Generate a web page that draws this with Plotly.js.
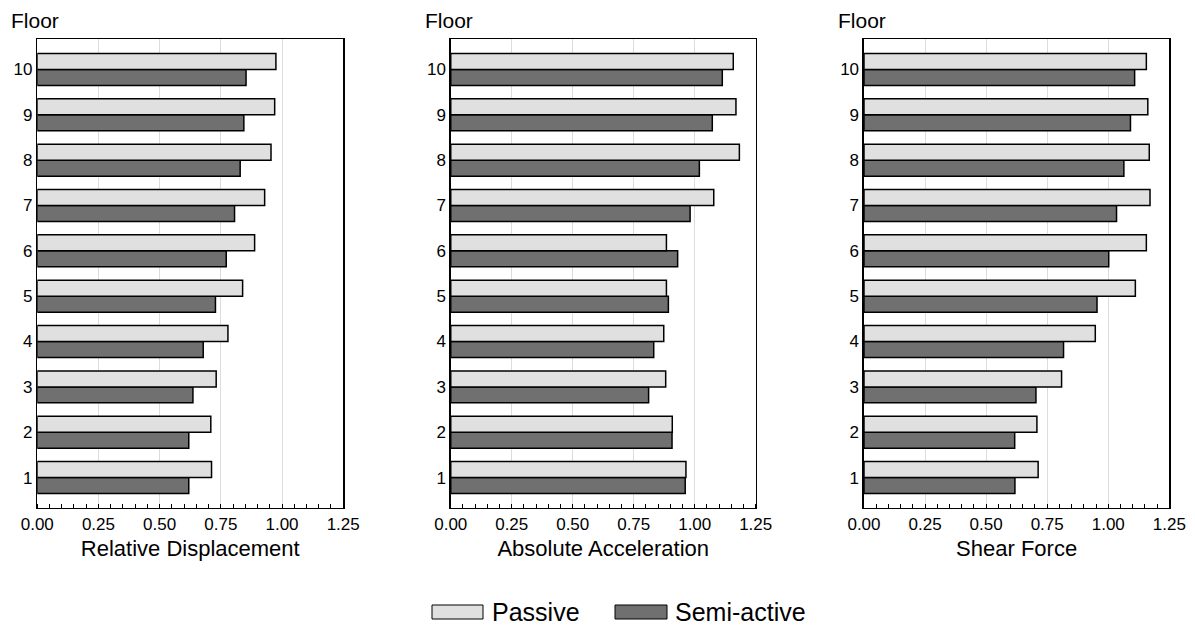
<!DOCTYPE html>
<html>
<head>
<meta charset="utf-8">
<script src="https://cdn.plot.ly/plotly-3.0.1.min.js"></script>
<style>html,body{margin:0;padding:0;background:#fff;}#chart{width:1195px;height:630px;}</style>
</head>
<body>
<div id="chart"></div>
<script>
const floors = [1, 2, 3, 4, 5, 6, 7, 8, 9, 10];
const panelTitles = ["Relative Displacement", "Absolute Acceleration", "Shear Force"];
const seriesNames = ["Passive", "Semi-active"];
const xTickVals = [0, 0.25, 0.5, 0.75, 1.0, 1.25];
const xTickText = ["0.00", "0.25", "0.50", "0.75", "1.00", "1.25"];

const dispPassive = [0.712, 0.709, 0.731, 0.779, 0.839, 0.888, 0.929, 0.955, 0.970, 0.975];
const dispSemi    = [0.619, 0.619, 0.636, 0.678, 0.728, 0.772, 0.806, 0.829, 0.844, 0.853];
const accPassive  = [0.964, 0.908, 0.881, 0.873, 0.884, 0.884, 1.078, 1.183, 1.169, 1.158];
const accSemi     = [0.961, 0.907, 0.811, 0.832, 0.892, 0.930, 0.981, 1.019, 1.072, 1.113];
const shearPassive= [0.713, 0.708, 0.809, 0.947, 1.111, 1.156, 1.171, 1.168, 1.162, 1.156];
const shearSemi   = [0.618, 0.617, 0.704, 0.817, 0.954, 1.002, 1.034, 1.064, 1.091, 1.108];

const passiveData = [dispPassive, accPassive, shearPassive];
const semiData = [dispSemi, accSemi, shearSemi];

const passiveColor = "#e0e0e0";
const semiColor = "#707070";
const FONT = "Liberation Sans, Arial, sans-serif";

const domains = [[0.0312, 0.2872], [0.3772, 0.6324], [0.7230, 0.9785]];
const yDomain = [0.1937, 0.938];

const traces = [];
const layout = {
  width: 1195, height: 630,
  margin: {l: 0, r: 0, t: 0, b: 0},
  paper_bgcolor: "#fff", plot_bgcolor: "#fff",
  barmode: "group", bargap: 0.295, bargroupgap: 0,
  showlegend: false,
  font: {family: FONT, color: "#000", size: 17},
  annotations: [], shapes: []
};

for (let i = 0; i < 3; i++) {
  const sfx = i === 0 ? "" : String(i + 1);
  // semi-active first so it sits below passive in each group
  traces.push({
    type: "bar", orientation: "h", name: seriesNames[1],
    x: semiData[i], y: floors, xaxis: "x" + sfx, yaxis: "y" + sfx,
    marker: {color: semiColor, line: {color: "#000", width: 1.5}},
    hoverinfo: "x+y"
  });
  traces.push({
    type: "bar", orientation: "h", name: seriesNames[0],
    x: passiveData[i], y: floors, xaxis: "x" + sfx, yaxis: "y" + sfx,
    marker: {color: passiveColor, line: {color: "#000", width: 1.5}},
    hoverinfo: "x+y"
  });
  layout["xaxis" + sfx] = {
    domain: domains[i], anchor: "y" + sfx,
    range: [0, 1.25], tickvals: xTickVals, ticktext: xTickText,
    showgrid: true, gridcolor: "#dcdcdc", gridwidth: 1,
    ticks: "", zeroline: false,
    minor: {dtick: 0.05, tick0: 0, ticks: "inside", ticklen: 4, tickcolor: "#000", tickwidth: 1, showgrid: false},
    showline: true, linecolor: "#000", linewidth: 1.5, mirror: true,
    tickfont: {family: FONT, size: 17, color: "#000"},
    title: {text: panelTitles[i], font: {family: FONT, size: 22, color: "#000"}, standoff: 7},
    fixedrange: true
  };
  layout["yaxis" + sfx] = {
    domain: yDomain, anchor: "x" + sfx,
    range: [0.33, 10.67], tickvals: floors, ticks: "",
    showgrid: false, zeroline: false,
    showline: true, linecolor: "#000", linewidth: 1.5, mirror: true,
    tickfont: {family: FONT, size: 17, color: "#000"},
    fixedrange: true
  };
  layout.annotations.push({
    xref: "paper", yref: "paper",
    x: domains[i][0] - 0.0235, y: (630 - 20.5) / 630,
    xanchor: "left", yanchor: "middle", showarrow: false,
    text: "Floor", font: {family: FONT, size: 21, color: "#000"}
  });
}

// legend drawn manually with wide swatches
const legendItems = [
  {x0: 432, x1: 483, tx: 490, color: passiveColor, label: seriesNames[0]},
  {x0: 615, x1: 667, tx: 673, color: semiColor, label: seriesNames[1]}
];
legendItems.forEach(it => {
  layout.shapes.push({
    type: "rect", xref: "paper", yref: "paper",
    x0: it.x0 / 1195, x1: it.x1 / 1195,
    y0: (630 - 619) / 630, y1: (630 - 605) / 630,
    fillcolor: it.color, line: {color: "#000", width: 1}
  });
  layout.annotations.push({
    xref: "paper", yref: "paper",
    x: it.tx / 1195, y: (630 - 612) / 630,
    xanchor: "left", yanchor: "middle", showarrow: false,
    text: it.label, font: {family: FONT, size: 25, color: "#000"}
  });
});

Plotly.newPlot("chart", traces, layout, {displayModeBar: false, staticPlot: true});
</script>
</body>
</html>
